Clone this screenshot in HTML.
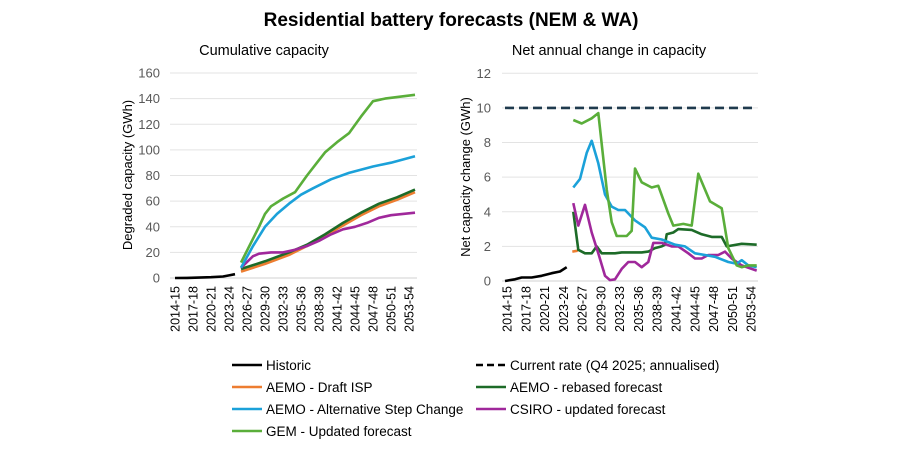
<!DOCTYPE html>
<html><head><meta charset="utf-8"><style>
html,body{margin:0;padding:0;background:#fff;width:902px;height:452px;overflow:hidden}
svg text{font-family:"Liberation Sans",Arial,sans-serif}
</style></head><body>
<svg id="s" width="902" height="452" xmlns="http://www.w3.org/2000/svg"></svg>
<script>
const s=document.getElementById('s');let h='';
h+='<text x="451" y="26" text-anchor="middle" font-size="19" font-weight="bold" fill="#000">Residential battery forecasts (NEM &amp; WA)</text>';
h+='<text x="264" y="55" text-anchor="middle" font-size="14.5" fill="#000">Cumulative capacity</text>';
h+='<text x="609" y="55" text-anchor="middle" font-size="14.5" fill="#000">Net annual change in capacity</text>';
const labs=[];for(let i=0;i<=39;i+=3){const y=2014+i;labs.push([i,y+'-'+String((y+1)%100).padStart(2,'0')]);}
// Left
const L={x0:175,dx:6.0,y0:278,k:205/160};
for(let v=0;v<=160;v+=20){const y=L.y0-v*L.k;h+=`<line x1="170" x2="417" y1="${y}" y2="${y}" stroke="${v?'#e3e3e3':'#d0d0d0'}" stroke-width="1"/>`;h+=`<text x="160" y="${y+4.5}" text-anchor="end" font-size="13" fill="#595959">${v}</text>`;}
labs.forEach(([i,t])=>{const x=L.x0+i*L.dx;h+=`<text transform="translate(${x+4.5},286) rotate(-90)" text-anchor="end" font-size="12.5" fill="#000">${t}</text>`;});
h+=`<text transform="translate(132,175) rotate(-90)" text-anchor="middle" font-size="13" fill="#000">Degraded capacity (GWh)</text>`;
function lp(pts,c,w){return `<polyline fill="none" stroke="${c}" stroke-width="${w||2.6}" stroke-linejoin="round" points="${pts.map(p=>(L.x0+p[0]*L.dx).toFixed(1)+','+(L.y0-p[1]*L.k).toFixed(1)).join(' ')}"/>`;}
const C={blk:'#000',org:'#ED7D31',blu:'#1BA1D9',gem:'#5AAE3A',dg:'#1D6B28',pur:'#A0289B'};
h+=lp([[0,0],[2,0.1],[4,0.3],[6,0.6],[8,1.2],[9,2],[10,3]],C.blk);
h+=lp([[11,5],[15,11],[19,18],[22,25],[25,33],[28,41],[31,49],[34,56],[37,61],[40,67]],C.org);
h+=lp([[11,7],[15,13],[19,20],[22,26],[25,34],[28,43],[31,51],[34,58],[37,63],[40,69]],C.dg);
h+=lp([[11,8],[13,17],[14,19],[16,20],[18,20],[20,22],[22,25],[24,29],[26,34],[28,38],[30,40],[32,43],[34,47],[36,49],[40,51]],C.pur);
h+=lp([[11,8],[13,25],[15,40],[17,50],[19,58],[21,65],[23,70],[26,77],[29,82],[33,87],[36,90],[40,95]],C.blu);
h+=lp([[11,12],[14,40],[15,50],[16,56],[18,62],[20,67],[22,80],[24,92],[25,98],[27,106],[29,113],[31,126],[33,138],[35,140],[40,143]],C.gem);
// Right
const R={x0:507,dx:6.26,y0:281,k:207.7/12};
for(let v=0;v<=12;v+=2){const y=R.y0-v*R.k;h+=`<line x1="502" x2="758" y1="${y}" y2="${y}" stroke="${v?'#e3e3e3':'#d0d0d0'}" stroke-width="1"/>`;h+=`<text x="491" y="${y+4.5}" text-anchor="end" font-size="13" fill="#595959">${v}</text>`;}
labs.forEach(([i,t])=>{const x=R.x0+i*R.dx;h+=`<text transform="translate(${x+4.5},286) rotate(-90)" text-anchor="end" font-size="12.5" fill="#000">${t}</text>`;});
h+=`<text transform="translate(470,177) rotate(-90)" text-anchor="middle" font-size="13" fill="#000">Net capacity change (GWh)</text>`;
function rp(pts,c,extra){return `<polyline fill="none" stroke="${c}" stroke-width="2.6" stroke-linejoin="round" ${extra||''} points="${pts.map(p=>(455+p[0]/3).toFixed(1)+','+(R.y0-p[1]*R.k).toFixed(1)).join(' ')}"/>`;}
h+=rp([[150,10],[905,10]],'#1F3A4D','stroke-dasharray="9,5"');
h+=rp([[150,0],[180,0.1],[200,0.2],[230,0.2],[260,0.3],[290,0.45],[315,0.55],[335,0.8]],C.blk);
h+=rp([[352,1.7],[368,1.75]],C.org);
h+=rp([[355,4.0],[370,1.8],[390,1.6],[410,1.6],[425,2.0],[440,1.6],[480,1.6],[500,1.65],[560,1.65],[580,1.7],[600,1.9],[620,2.0],[630,2.1],[635,2.7],[655,2.8],[670,3.0],[710,2.95],[740,2.7],[770,2.55],[800,2.55],[815,2.0],[860,2.15],[905,2.1]],C.dg);
h+=rp([[355,4.5],[370,3.2],[390,4.4],[410,2.8],[430,1.6],[450,0.3],[465,0.05],[480,0.1],[500,0.7],[520,1.1],[540,1.1],[560,0.8],[580,1.1],[595,2.2],[620,2.2],[650,2.0],[670,2.0],[700,1.6],[720,1.3],[740,1.3],[760,1.5],[790,1.5],[810,1.7],[830,1.3],[860,0.9],[905,0.6]],C.pur);
h+=rp([[355,5.4],[375,5.9],[395,7.4],[410,8.1],[430,6.8],[450,5],[470,4.3],[490,4.1],[510,4.1],[540,3.5],[570,3.1],[590,2.5],[620,2.4],[660,2.1],[690,2.0],[720,1.6],[750,1.5],[780,1.4],[820,1.1],[845,1.0],[860,1.2],[880,0.9],[905,0.8]],C.blu);
h+=rp([[355,9.3],[380,9.1],[410,9.4],[430,9.7],[455,5.3],[470,3.4],[485,2.6],[515,2.6],[530,2.9],[540,6.5],[560,5.7],[590,5.4],[610,5.5],[640,3.9],[655,3.2],[685,3.3],[710,3.2],[730,6.2],[765,4.6],[800,4.2],[820,1.9],[845,0.9],[860,0.8],[880,0.9],[905,0.9]],C.gem);
// Legend
const lg=[[232,365,C.blk,'Historic',''],[476,365,'#000','Current rate (Q4 2025; annualised)','stroke-dasharray="7,4"'],[232,387,C.org,'AEMO - Draft ISP',''],[476,387,C.dg,'AEMO - rebased forecast',''],[232,409,C.blu,'AEMO - Alternative Step Change',''],[476,409,C.pur,'CSIRO - updated forecast',''],[232,431,C.gem,'GEM - Updated forecast','']];
lg.forEach(([x,y,c,t,e])=>{h+=`<line x1="${x}" x2="${x+30}" y1="${y}" y2="${y}" stroke="${c}" stroke-width="2.6" ${e}/>`;h+=`<text x="${x+34}" y="${y+5}" font-size="13.5" fill="#000">${t}</text>`;});
s.innerHTML=h;
</script>
</body></html>
